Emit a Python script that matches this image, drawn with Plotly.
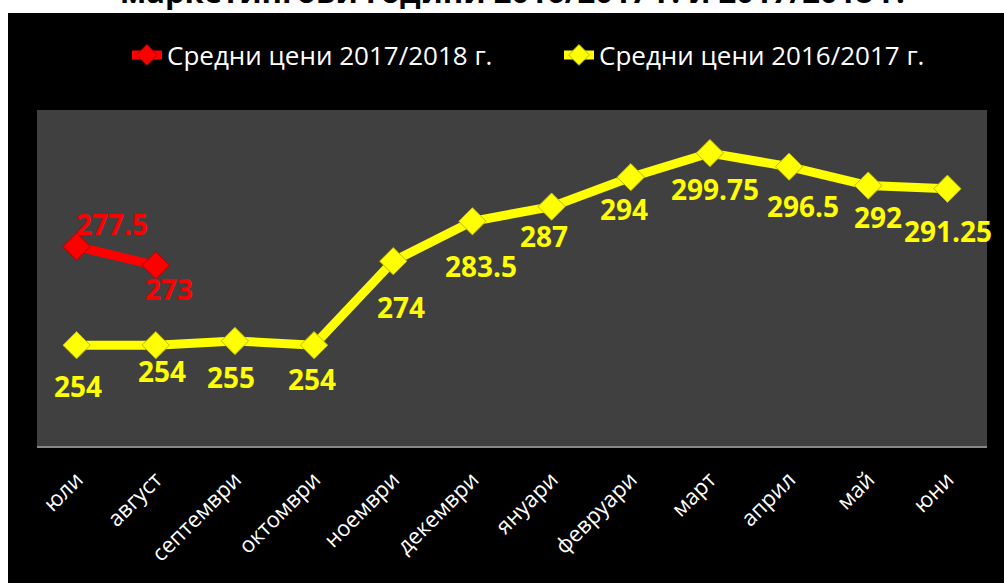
import plotly.graph_objects as go

categories = ['юли', 'август', 'септември', 'октомври', 'ноември', 'декември',
              'януари', 'февруари', 'март', 'април', 'май', 'юни']
prices_2016_17 = [254, 254, 255, 254, 274, 283.5, 287, 294, 299.75, 296.5, 292, 291.25]
prices_2017_18 = [277.5, 273]
name_2017_18 = 'Средни цени 2017/2018 г.'
name_2016_17 = 'Средни цени 2016/2017 г.'
title_text = 'маркетингови години 2016/2017 г. и 2017/2018 г.'

# label offsets in px (dx, dy down)
off_16 = [(1, 41), (6, 26), (-4, 36), (-2, 34), (8, 46), (9, 45), (-8, 29),
          (-7, 32), (5, 36), (14, 39), (10, 31), (1, 42)]
off_17 = [(35, -23), (13, 24)]

YEL = '#FFFF00'
RED = '#FF0000'
LBLFONT = 'Open Sans'

fig = go.Figure()
fig.add_trace(go.Scatter(
    x=categories[:len(prices_2017_18)], y=prices_2017_18, name=name_2017_18,
    mode='lines+markers', line=dict(color=RED, width=9),
    marker=dict(symbol='diamond', size=21, color=RED, line=dict(color='#B00000', width=1))))
fig.add_trace(go.Scatter(
    x=categories, y=prices_2016_17, name=name_2016_17,
    mode='lines+markers', line=dict(color=YEL, width=9),
    marker=dict(symbol='diamond', size=21, color=YEL, line=dict(color='#B8B800', width=1))))

anns = []
for c, v, (dx, dy) in zip(categories, prices_2016_17, off_16):
    anns.append(dict(x=c, y=v, text=f'{v:g}', showarrow=False, xshift=dx, yshift=-dy,
                     font=dict(family=LBLFONT, size=28, color=YEL, weight='bold')))
for c, v, (dx, dy) in zip(categories, prices_2017_18, off_17):
    anns.append(dict(x=c, y=v, text=f'{v:g}', showarrow=False, xshift=dx, yshift=-dy,
                     font=dict(family=LBLFONT, size=28, color=RED, weight='bold')))
anns.append(dict(xref='paper', yref='paper', x=0.5, y=(446 - 14) / 336, yanchor='bottom',
                 text=title_text, showarrow=False,
                 font=dict(family=LBLFONT, size=31, color='black', weight='bold')))
fig.update_layout(annotations=anns)

fig.update_layout(
    width=1004, height=583,
    margin=dict(l=37, r=17, t=110, b=137, pad=0),
    paper_bgcolor='black', plot_bgcolor='#404040',
    showlegend=True,
    legend=dict(orientation='h', x=(127 - 37) / 950, xanchor='left',
                y=(446 - 55) / 336, yanchor='middle',
                font=dict(family=LBLFONT, size=26, color='white'),
                entrywidth=387, bgcolor='rgba(0,0,0,0)', traceorder='normal'),
    xaxis=dict(type='category', range=[-0.5, 11.5], showgrid=False, zeroline=False,
               showline=True, linecolor='#888888', linewidth=2, tickangle=-45,
               ticks='outside', ticklen=10, tickcolor='rgba(0,0,0,0)',
               tickfont=dict(family=LBLFONT, size=22, color='white'), fixedrange=True),
    yaxis=dict(range=[230, 310], visible=False, showgrid=False, fixedrange=True),
    shapes=[
        dict(type='rect', xref='paper', yref='paper', x0=-0.1, x1=1.1,
             y0=(446 - 13) / 336, y1=1.5, fillcolor='white', line=dict(width=0), layer='below'),
        dict(type='rect', xref='paper', yref='paper', x0=-0.1, x1=(8 - 37) / 950,
             y0=-1, y1=1.5, fillcolor='white', line=dict(width=0), layer='below'),
    ],
)

fig.write_html('out.html', config={'displayModeBar': False},
               post_script="document.body.style.margin='0';")
